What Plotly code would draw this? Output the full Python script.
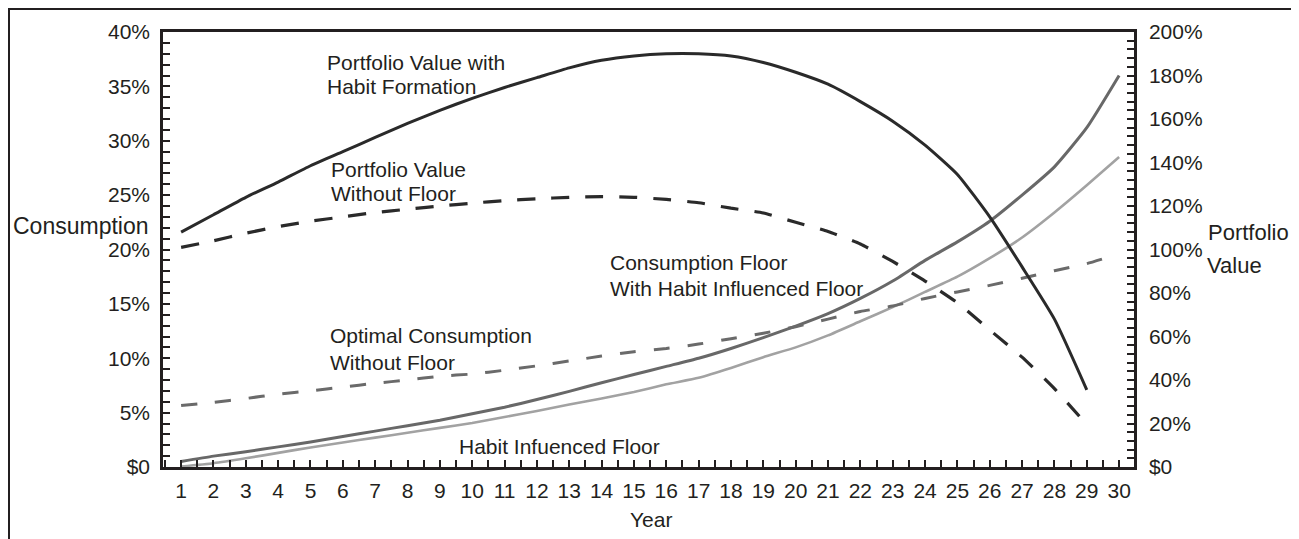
import plotly.graph_objects as go

# ---- data ----
years = list(range(1, 31))

# right axis (portfolio value, %)
portfolio_habit = [108, 116, 124, 131, 138.5, 145, 151.5, 158, 164, 169.5,
                   174.5, 179, 183.5, 187, 189, 190, 190, 189, 186, 181.5,
                   176, 168, 159, 148, 134.5, 115, 92, 68, 35.5]
portfolio_no_floor = [101, 104, 107.5, 110.5, 113, 115, 117, 118.5, 120, 121.3,
                      122.5, 123.3, 124, 124.3, 124, 123, 121.5, 119, 116.8, 112.5,
                      108.3, 102.5, 94.5, 85.5, 75.5, 63, 50.5, 36, 19.5]

# left axis (consumption, %)
optimal_consumption = [5.65, 5.95, 6.3, 6.7, 7.0, 7.35, 7.7, 8.0, 8.35, 8.55,
                       8.9, 9.3, 9.75, 10.2, 10.6, 10.9, 11.3, 11.8, 12.3, 12.9,
                       13.6, 14.3, 14.8, 15.5, 16.1, 16.7, 17.35, 18.05, 18.7, 19.6]
floor_with_habit = [0.5, 1.0, 1.4, 1.85, 2.3, 2.8, 3.3, 3.8, 4.3, 4.9,
                    5.5, 6.2, 6.95, 7.75, 8.5, 9.25, 10.0, 10.9, 11.9, 12.95,
                    14.1, 15.5, 17.1, 19.0, 20.7, 22.6, 25.0, 27.6, 31.2, 36.0]
habit_floor = [0.05, 0.35, 0.8, 1.3, 1.8, 2.25, 2.7, 3.15, 3.6, 4.05,
               4.6, 5.15, 5.75, 6.3, 6.9, 7.6, 8.2, 9.1, 10.1, 11.0,
               12.1, 13.4, 14.7, 16.1, 17.5, 19.2, 21.1, 23.4, 25.9, 28.5]

left_ticks = [0, 5, 10, 15, 20, 25, 30, 35, 40]
left_labels = ["$0", "5%", "10%", "15%", "20%", "25%", "30%", "35%", "40%"]
right_ticks = [0, 20, 40, 60, 80, 100, 120, 140, 160, 180, 200]
right_labels = ["$0", "20%", "40%", "60%", "80%", "100%", "120%", "140%",
                "160%", "180%", "200%"]

# ---- styling ----
TXT = "#231f20"
FONT = "Liberation Sans, Arial, sans-serif"
FS = 21
OFF = 8                      # page body margin in the browser
W, H = 1299 - OFF, 539 - OFF
# plot area in page pixels
PL, PR, PT, PB = 163, 1134, 32, 467
L, R, T, B = PL - OFF, PR - OFF, PT - OFF, PB - OFF


def paper(xp, yp):
    """Page pixel position -> paper coordinates."""
    return (xp - PL) / (PR - PL), (PB - yp) / (PB - PT)


def line(color, width, dash="solid"):
    return dict(color=color, width=width, dash=dash, shape="spline", smoothing=0.5)


fig = go.Figure()

fig.add_trace(go.Scatter(x=years, y=habit_floor, mode="lines",
                         line=line("#a2a2a2", 2.6)))
fig.add_trace(go.Scatter(x=years, y=floor_with_habit, mode="lines",
                         line=line("#686868", 3)))
fig.add_trace(go.Scatter(x=years, y=optimal_consumption, mode="lines",
                         line=line("#6a6a6a", 3, "16px,18px")))
fig.add_trace(go.Scatter(x=years[:len(portfolio_no_floor)], y=portfolio_no_floor,
                         mode="lines", yaxis="y2",
                         line=line("#2a2a2a", 3.2, "18px,16px")))
fig.add_trace(go.Scatter(x=years[:len(portfolio_habit)], y=portfolio_habit,
                         mode="lines", yaxis="y2",
                         line=line("#2a2a2a", 3)))

tick_common = dict(ticks="inside", ticklen=7, tickwidth=2, tickcolor=TXT,
                   showline=True, linewidth=2.5, linecolor=TXT,
                   showgrid=False, zeroline=False,
                   tickfont=dict(family=FONT, size=FS, color=TXT))

fig.update_layout(
    width=W, height=H,
    margin=dict(l=L, r=W - R, t=T, b=H - B, pad=0),
    paper_bgcolor="white", plot_bgcolor="white",
    showlegend=False,
    font=dict(family=FONT, size=FS, color=TXT),
    xaxis=dict(range=[0.44, 30.46], tickmode="array", tickvals=years,
               mirror=True, ticklabelstandoff=3,
               minor=dict(tickmode="linear", tick0=0.5, dtick=1, ticks="inside",
                          ticklen=7, tickwidth=2, tickcolor=TXT),
               **tick_common),
    yaxis=dict(range=[0, 40], tickmode="array", tickvals=left_ticks,
               ticktext=left_labels, ticklabelstandoff=6,
               minor=dict(tickmode="linear", tick0=0, dtick=1, ticks="inside",
                          ticklen=7, tickwidth=2, tickcolor=TXT),
               **tick_common),
    yaxis2=dict(range=[0, 200], overlaying="y", side="right", anchor="x",
                tickmode="array", tickvals=right_ticks, ticktext=right_labels,
                ticklabelstandoff=8,
                minor=dict(tickmode="linear", tick0=0, dtick=4, ticks="inside",
                           ticklen=7, tickwidth=2, tickcolor=TXT),
                **tick_common),
)

# outer frame of the figure (only top and left edges visible in the crop)
x0, y1 = paper(OFF + 1, OFF + 1)
x1, y0 = paper(1330, 570)
fig.add_shape(type="rect", xref="paper", yref="paper", x0=x0, x1=x1, y0=y0, y1=y1,
              line=dict(color=TXT, width=2), layer="above")

labels = [
    ("Portfolio Value with", 325, 62, "left", FS),
    ("Habit Formation", 325, 86, "left", FS),
    ("Portfolio Value", 329, 169, "left", FS),
    ("Without Floor", 329, 193, "left", FS),
    ("Consumption Floor", 608, 262, "left", FS),
    ("With Habit Influenced Floor", 608, 288, "left", FS),
    ("Optimal Consumption", 328, 335, "left", FS),
    ("Without Floor", 328, 362, "left", FS),
    ("Habit Infuenced Floor", 457, 446, "left", FS),
    ("Consumption", 151, 226, "right", 23),
    ("Portfolio", 1206, 232, "left", 22),
    ("Value", 1205, 265, "left", 22),
    ("Year", 651, 519, "center", FS),
]
for text, xp, yp, anchor, size in labels:
    ax, ay = paper(xp, yp)
    fig.add_annotation(text=text, x=ax, y=ay, xref="paper", yref="paper",
                       xanchor=anchor, yanchor="middle", showarrow=False,
                       font=dict(family=FONT, size=size, color=TXT))

fig.write_html("out.html")
